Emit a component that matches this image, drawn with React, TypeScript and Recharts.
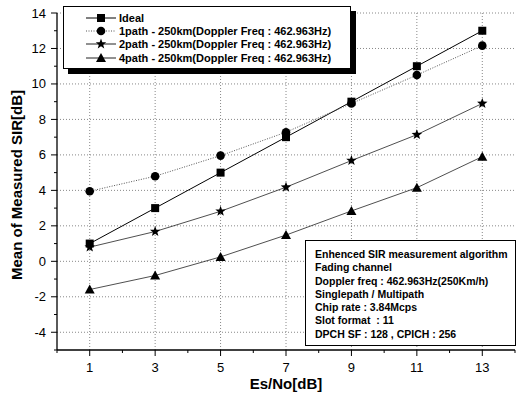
import React from "react";
import { LineChart, Line, XAxis, YAxis, ReferenceLine, Legend } from "recharts";

const esNo = [1, 3, 5, 7, 9, 11, 13];
const ideal = [1, 3, 5, 7, 9, 11, 13];
const path1 = [3.95, 4.8, 5.96, 7.28, 8.9, 10.5, 12.16];
const path2 = [0.8, 1.68, 2.82, 4.18, 5.68, 7.14, 8.9];
const path4 = [-1.59, -0.8, 0.25, 1.48, 2.84, 4.15, 5.9];

const xTicks = [0, 1, 2, 3, 4, 5, 6, 7, 8, 9, 10, 11, 12, 13, 14];
const yTicks = [-5, -4, -3, -2, -1, 0, 1, 2, 3, 4, 5, 6, 7, 8, 9, 10, 11, 12, 13, 14];
const xGrid = [1, 3, 5, 7, 9, 11, 13];
const yGrid = [-4, -2, 0, 2, 4, 6, 8, 10, 12, 14];

const noteLines = [
  "Enhenced SIR measurement algorithm",
  "Fading channel",
  "Doppler freq : 462.963Hz(250Km/h)",
  "Singlepath / Multipath",
  "Chip rate : 3.84Mcps",
  "Slot format  : 11",
  "DPCH SF : 128 , CPICH : 256",
];

const series = [
  { key: "ideal", name: "Ideal", shape: "square", dash: undefined, color: "#000", width: 1 },
  { key: "path1", name: "1path - 250km(Doppler Freq : 462.963Hz)", shape: "circle", dash: "1 1.5", color: "#555", width: 1 },
  { key: "path2", name: "2path - 250km(Doppler Freq : 462.963Hz)", shape: "star", dash: undefined, color: "#222", width: 0.8 },
  { key: "path4", name: "4path - 250km(Doppler Freq : 462.963Hz)", shape: "triangle", dash: undefined, color: "#222", width: 0.8 },
];

const data = esNo.map((x, i) => ({
  x,
  ideal: ideal[i],
  path1: path1[i],
  path2: path2[i],
  path4: path4[i],
}));

const font = "'Liberation Sans', Arial, sans-serif";

function Marker({ cx, cy, shape }: { cx: number; cy: number; shape: string }) {
  if (shape === "square") return <rect x={cx - 4} y={cy - 4} width={8} height={8} fill="#000" />;
  if (shape === "circle") return <circle cx={cx} cy={cy} r={4.3} fill="#000" />;
  if (shape === "triangle")
    return <polygon points={`${cx},${cy - 5} ${cx + 5},${cy + 4} ${cx - 5},${cy + 4}`} fill="#000" />;
  const pts: string[] = [];
  for (let k = 0; k < 10; k++) {
    const r = k % 2 === 0 ? 5.5 : 2.3;
    const a = -Math.PI / 2 + (k * Math.PI) / 5;
    pts.push(`${cx + r * Math.cos(a)},${cy + r * Math.sin(a)}`);
  }
  return <polygon points={pts.join(" ")} fill="#000" />;
}

const XTick = (props: any) => {
  const { x, y, payload } = props;
  const v = payload.value;
  const major = v % 2 === 1;
  return (
    <g>
      <line x1={x} x2={x} y1={y} y2={y + (major ? 6 : 3)} stroke="#000" />
      {major && (
        <text x={x} y={y + 22} textAnchor="middle" fontSize={13} fontFamily={font} fill="#000">
          {v}
        </text>
      )}
    </g>
  );
};

const YTick = (props: any) => {
  const { x, y, payload } = props;
  const v = payload.value;
  const major = v % 2 === 0;
  return (
    <g>
      <line x1={x - (major ? 6 : 3)} x2={x} y1={y} y2={y} stroke="#000" />
      {major && (
        <text x={x - 11} y={y + 4.5} textAnchor="end" fontSize={13} fontFamily={font} fill="#000">
          {v}
        </text>
      )}
    </g>
  );
};

const renderLegend = () => (
  <div
    style={{
      border: "1px solid #000",
      boxShadow: "5px 5px 0 #000",
      background: "#fff",
      width: 288,
      height: 63,
      boxSizing: "border-box",
      padding: "4px 0 0 20px",
      fontFamily: font,
      fontWeight: "bold",
      fontSize: 11,
    }}
  >
    {series.map((s) => (
      <div key={s.key} style={{ display: "flex", alignItems: "center", height: 13.4 }}>
        <svg width={34} height={12} style={{ flex: "none" }}>
          <line x1={2} x2={32} y1={6} y2={6} stroke={s.color} strokeDasharray={s.dash} />
          <Marker cx={17} cy={6} shape={s.shape} />
        </svg>
        <span style={{ whiteSpace: "nowrap", marginLeft: 1 }}>{s.name}</span>
      </div>
    ))}
  </div>
);

export default function App() {
  return (
    <div style={{ position: "absolute", left: 0, top: 0, width: 517, height: 405, background: "#fff" }}>
      <LineChart width={517} height={405} data={data} margin={{ top: 13, right: 2, left: 0, bottom: 0 }}>
        {xGrid.map((g) => (
          <ReferenceLine key={`gx${g}`} x={g} stroke="#888" strokeDasharray="1 2" />
        ))}
        {yGrid.map((g) => (
          <ReferenceLine key={`gy${g}`} y={g} stroke="#888" strokeDasharray="1 2" />
        ))}
        <XAxis
          dataKey="x"
          type="number"
          domain={[0, 14]}
          ticks={xTicks}
          interval={0}
          height={55}
          tickSize={0}
          tickMargin={0}
          tickLine={false}
          tick={<XTick />}
          axisLine={{ stroke: "#000", strokeWidth: 1.3 }}
          label={{
            content: () => (
              <text x={286} y={389} textAnchor="middle" fontSize={15} fontWeight="bold" fontFamily={font}>
                Es/No[dB]
              </text>
            ),
          }}
        />
        <YAxis
          type="number"
          domain={[-5, 14]}
          ticks={yTicks}
          interval={0}
          width={57}
          tickSize={0}
          tickMargin={0}
          tickLine={false}
          tick={<YTick />}
          axisLine={{ stroke: "#000", strokeWidth: 1.3 }}
          label={{
            content: () => (
              <text
                x={0}
                y={0}
                transform="translate(22 185) rotate(-90)"
                textAnchor="middle"
                fontSize={15}
                fontWeight="bold"
                fontFamily={font}
              >
                Mean of Measured SIR[dB]
              </text>
            ),
          }}
        />
        {series.map((s) => (
          <Line
            key={s.key}
            dataKey={s.key}
            name={s.name}
            type="linear"
            stroke={s.color}
            strokeWidth={s.width}
            strokeDasharray={s.dash}
            isAnimationActive={false}
            dot={(p: any) => <Marker key={`${s.key}-${p.index}`} cx={p.cx} cy={p.cy} shape={s.shape} />}
          />
        ))}
        <Legend
          layout="vertical"
          align="center"
          verticalAlign="middle"
          content={renderLegend}
          wrapperStyle={{ left: 63, top: 6, width: 300 }}
        />
      </LineChart>
      <div
        style={{
          position: "absolute",
          left: 305,
          top: 240,
          width: 211,
          height: 106,
          boxSizing: "border-box",
          border: "1px solid #000",
          background: "#fff",
          padding: "7px 0 0 9px",
          fontFamily: font,
          fontWeight: "bold",
          fontSize: 10.5,
          lineHeight: "13.3px",
        }}
      >
        {noteLines.map((t) => (
          <div key={t} style={{ whiteSpace: "pre" }}>
            {t}
          </div>
        ))}
      </div>
    </div>
  );
}
